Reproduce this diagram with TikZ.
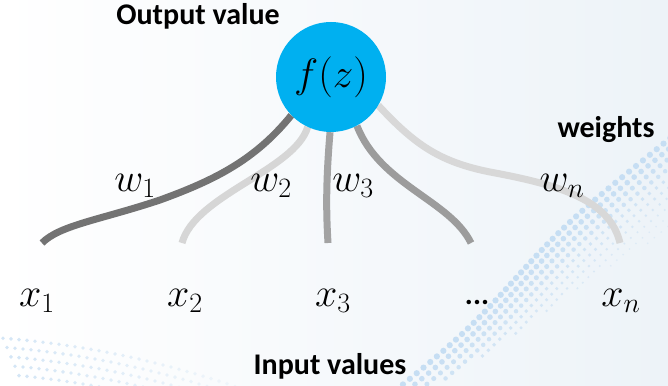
\RequirePackage{fix-cm}
\documentclass[tikz,border=0pt]{standalone}
\usepackage{fontspec}
\newfontfamily\calfont{Carlito}
\definecolor{fzblue}{HTML}{00B0F0}
\definecolor{dotblue}{HTML}{C6DEF3}
\definecolor{bgB}{HTML}{EDF3F8}
\definecolor{wA}{HTML}{737373}
\definecolor{wB}{HTML}{D6D6D6}
\definecolor{wC}{HTML}{A3A3A3}
\definecolor{wD}{HTML}{9C9C9C}
\definecolor{wE}{HTML}{D8D8D8}
\pgfdeclarelayer{bg}
\pgfdeclarelayer{wires}
\pgfsetlayers{bg,wires,main}
\tikzset{
  wire/.style={line width=7pt},
  title/.style={font=\fontsize{30}{31}\selectfont\calfont\bfseries, inner sep=0pt, anchor=base},
  mlabel/.style={font=\fontsize{40}{42}\selectfont, inner sep=0pt, anchor=base},
  neuron/.style={circle, fill=fzblue, minimum size=110pt, inner sep=0pt, font=\fontsize{41}{44}\selectfont},
  dot/.style={fill=dotblue}
}
\begin{document}
\begin{tikzpicture}[x=1pt,y=-1pt]
\useasboundingbox (0,0) rectangle (668,385);
\begin{pgfonlayer}{bg}
  \shade[left color=white, right color=bgB] (0,0) rectangle (668,385);
  \begin{scope}
    \clip (0,0) rectangle (668,385);
    % diagonal dotted band
    \foreach \u in {0,...,46} {
      \pgfmathtruncatemacro\nmax{2+\u/5}
      \foreach \v in {0,...,\nmax} {
        \pgfmathsetmacro\px{396+6.0*\u+0.68*7.5*\v+6*sin(\u*9)}
        \pgfmathsetmacro\py{390-5.6*\u+0.73*7.5*\v}
        \pgfmathsetmacro\rr{max(0.9,3.1-0.28*\v)}
        \pgfmathsetmacro\op{max(0.35,1-0.07*\v)}
        \fill[dot, opacity=\op] (\px,\py) circle (\rr pt);
      }
    }
    % bottom-left arc of dots
    \foreach \u in {0,...,30} {
      \foreach \v in {0,...,4} {
        \pgfmathsetmacro\px{3+8*\u+4*\v}
        \pgfmathsetmacro\py{338+0.0733*\px+0.00057*\px*\px+9*\v}
        \pgfmathsetmacro\op{max(0.2,0.75-0.02*\u)}
        \fill[dot, opacity=\op] (\px,\py) circle (1.9pt);
      }
    }
  \end{scope}
\end{pgfonlayer}

\node[neuron] (f) at (331,77) {$f(z)$};

\coordinate (e1) at (42,243);
\coordinate (e2) at (182,243);
\coordinate (e3) at (328,243);
\coordinate (e4) at (471,243);
\coordinate (e5) at (620,243);

\begin{pgfonlayer}{wires}
  \draw[wire, wA] (f.224) .. controls (255,160) and (215,180) .. (160,200)
                          .. controls (100,220) and (60,225) .. (e1);
  \draw[wire, wB] (f.245) .. controls (295,170) and (195,195) .. (e2);
  \draw[wire, wC] (f.269) .. controls (326,180) and (326,210) .. (e3);
  \draw[wire, wD] (f.298) .. controls (380,185) and (450,200) .. (e4);
  \draw[wire, wE] (f.329) .. controls (415,145) and (440,162) .. (490,172)
                          .. controls (560,185) and (610,200) .. (e5);
\end{pgfonlayer}

\node[title] (out) at (198,25) {Output value};
\node[title] (wts) at (606,137) {weights};
\node[title] (inp) at (330,374) {Input values};

\node[mlabel] (w1) at (135,191) {$w_1$};
\node[mlabel] (w2) at (271,191) {$w_2$};
\node[mlabel] (w3) at (353,191) {$w_3$};
\node[mlabel] (wn) at (562,191) {$w_n$};

\node[mlabel] (x1) at (37,306) {$x_1$};
\node[mlabel] (x2) at (185,306) {$x_2$};
\node[mlabel] (x3) at (333,306) {$x_3$};
\node[title] (xd) at (477,304) {...};
\node[mlabel] (xn) at (621,306) {$x_n$};
\end{tikzpicture}
\end{document}
